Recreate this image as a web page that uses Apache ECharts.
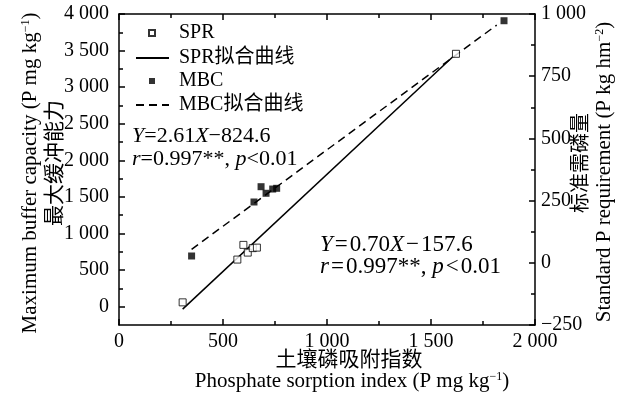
<!DOCTYPE html>
<html><head><meta charset="utf-8">
<script src="https://cdn.jsdelivr.net/npm/echarts@6/dist/echarts.min.js"></script>
<style>html,body{margin:0;padding:0;background:#fff}#c{width:620px;height:398px}</style>
</head><body><div id="c"></div>
<script>
// ---- data ----
const xTicks = [0, 500, 1000, 1500, 2000];
const leftMajor = [0, 500, 1000, 1500, 2000, 2500, 3000, 3500, 4000];
const leftMinor = [250, 750, 1250, 1750, 2250, 2750, 3250, 3750];
const rightTicks = [-250, 0, 250, 500, 750, 1000];
const sprPoints = [[306, -159], [569, 13], [598, 72], [619, 41], [643, 59], [663, 61], [1620, 840]];
const sprFit = [[306, -186], [1605, 828]];
const mbcPoints = [[349, 693], [649, 1431], [683, 1640], [707, 1550], [739, 1608], [758, 1618], [1851, 3908]];
const mbcFit = [[349, 784], [1816, 3849]];
const names = ['SPR', 'SPR拟合曲线', 'MBC', 'MBC拟合曲线'];

const FONT = '"Liberation Serif", "Noto Sans CJK SC", serif';
const fmt = v => {
  const s = String(Math.abs(v));
  const t = s.length > 3 ? s.slice(0, -3) + ' ' + s.slice(-3) : s;
  return (v < 0 ? '−' : '') + t;
};
const lineStyle = { color: '#000', width: 1.5 };
const labelStyle = { color: '#000', fontFamily: FONT, fontSize: 20 };

const chart = echarts.init(document.getElementById('c'), null, { renderer: 'canvas' });
const mkRich = fs => ({
  n: { fontFamily: FONT, fontSize: fs, color: '#000' },
  i: { fontFamily: FONT, fontSize: fs, color: '#000', fontStyle: 'italic' },
  sp: { fontFamily: FONT, fontSize: 8, color: '#000' },
  s: { fontFamily: FONT, fontSize: 12, color: '#000', verticalAlign: 'top', lineHeight: 14 }
});
const richA = mkRich(22), richB = mkRich(23), richT = mkRich(21);
const legendText = { fontFamily: FONT, fontSize: 20, color: '#000', lineHeight: 20 };
const hidden = { opacity: 0, borderWidth: 0 };
chart.setOption({
  backgroundColor: '#fff',
  animation: false,
  grid: { left: 119, top: 14, width: 416, height: 311, show: false },
  xAxis: [
    { type: 'value', position: 'bottom', min: 0, max: 2000, interval: 500,
      axisLine: { onZero: false, lineStyle }, splitLine: { show: false },
      axisTick: { inside: true, length: 6, lineStyle },
      minorTick: { show: true, splitNumber: 2, length: 4, lineStyle },
      axisLabel: Object.assign({ margin: 7, formatter: fmt }, labelStyle) },
    { type: 'value', position: 'top', min: 0, max: 2000, interval: 500,
      axisLine: { onZero: false, lineStyle }, splitLine: { show: false },
      axisTick: { inside: true, length: 6, lineStyle },
      minorTick: { show: true, splitNumber: 2, length: 4, lineStyle },
      axisLabel: { show: false } }
  ],
  yAxis: [
    { type: 'value', position: 'left', min: -250, max: 4000,
      axisLine: { onZero: false, lineStyle }, splitLine: { show: false },
      axisTick: { inside: true, length: 6, lineStyle, customValues: leftMajor },
      axisLabel: Object.assign({ margin: 10, formatter: fmt, customValues: leftMajor }, labelStyle) },
    { type: 'value', position: 'right', min: -250, max: 1000, interval: 250,
      axisLine: { onZero: false, lineStyle }, splitLine: { show: false },
      axisTick: { inside: true, length: 6, lineStyle, customValues: rightTicks },
      minorTick: { show: true, splitNumber: 2, length: 4, lineStyle },
      axisLabel: Object.assign({ margin: 6, formatter: fmt, customValues: rightTicks }, labelStyle) },
    { type: 'value', position: 'left', min: -250, max: 4000,
      axisLine: { show: false, onZero: false }, splitLine: { show: false },
      axisTick: { inside: true, length: 4, lineStyle, customValues: leftMinor },
      axisLabel: { show: false } }
  ],
  legend: [
    { orient: 'vertical', left: 143, top: 18, itemWidth: 6, itemHeight: 6, itemGap: 28,
      selectedMode: false, textStyle: Object.assign({ padding: [0, 0, 0, 19] }, legendText),
      data: [{ name: names[0], icon: 'rect' }, { name: names[2], icon: 'rect' }] },
    { orient: 'vertical', left: 130, top: 43, itemWidth: 33, itemHeight: 6, itemGap: 27,
      selectedMode: false, textStyle: Object.assign({ padding: [0, 0, 0, 5] }, legendText),
      data: [{ name: names[1], itemStyle: hidden }, { name: names[3], itemStyle: hidden }] }
  ],
  series: [
    { name: names[1], type: 'line', yAxisIndex: 1, data: sprFit, symbol: 'none', z: 2,
      lineStyle: { color: '#000', width: 1.5, type: 'solid' }, itemStyle: { color: '#000' } },
    { name: names[3], type: 'line', yAxisIndex: 0, data: mbcFit, symbol: 'none', z: 2,
      lineStyle: { color: '#000', width: 1.5, type: [8, 5] }, itemStyle: { color: '#000' } },
    { name: names[0], type: 'scatter', yAxisIndex: 1, data: sprPoints, symbol: 'rect', symbolSize: 7, z: 3,
      itemStyle: { color: '#fff', borderColor: '#000', borderWidth: 1 } },
    { name: names[2], type: 'scatter', yAxisIndex: 0, data: mbcPoints, symbol: 'rect', symbolSize: 7, z: 3,
      itemStyle: { color: '#000' } }
  ],
  graphic: [
    { type: 'text', left: 132, top: 125, style: { text: '{i|Y}{n|=2.61}{i|X}{n|−824.6}', rich: richA } },
    { type: 'text', left: 132, top: 148, style: { text: '{i|r}{n|=0.997**, }{i|p}{n|<0.01}', rich: richA } },
    { type: 'text', left: 320, top: 233, style: { text: '{i|Y}{sp| }{n|=}{sp| }{n|0.70}{i|X}{sp| }{n|−}{sp| }{n|157.6}', rich: richB } },
    { type: 'text', left: 320, top: 255, style: { text: '{i|r}{sp| }{n|=}{sp| }{n|0.997**, }{i|p}{sp| }{n|<}{sp| }{n|0.01}', rich: richB } },
    { type: 'text', x: 30, y: 173, rotation: Math.PI / 2,
      style: { text: '{n|Maximum buffer capacity (P mg kg}{s|−1}{n|)}', rich: richT, align: 'center', verticalAlign: 'middle' } },
    { type: 'text', x: 55, y: 163, rotation: Math.PI / 2,
      style: { text: '最大缓冲能力', font: '21px ' + FONT, fill: '#000', align: 'center', verticalAlign: 'middle' } },
    { type: 'text', x: 582, y: 163, rotation: Math.PI / 2,
      style: { text: '标准需磷量', font: '20px ' + FONT, fill: '#000', align: 'center', verticalAlign: 'middle' } },
    { type: 'text', x: 604, y: 172, rotation: Math.PI / 2,
      style: { text: '{n|Standard P requirement (P kg hm}{s|−2}{n|)}', rich: richT, align: 'center', verticalAlign: 'middle' } },
    { type: 'text', x: 349, y: 360,
      style: { text: '土壤磷吸附指数', font: '21px ' + FONT, fill: '#000', align: 'center', verticalAlign: 'middle' } },
    { type: 'text', x: 352, y: 381,
      style: { text: '{n|Phosphate sorption index (P mg kg}{s|−1}{n|)}', rich: richT, align: 'center', verticalAlign: 'middle' } }
  ]
});
</script>
</body></html>
